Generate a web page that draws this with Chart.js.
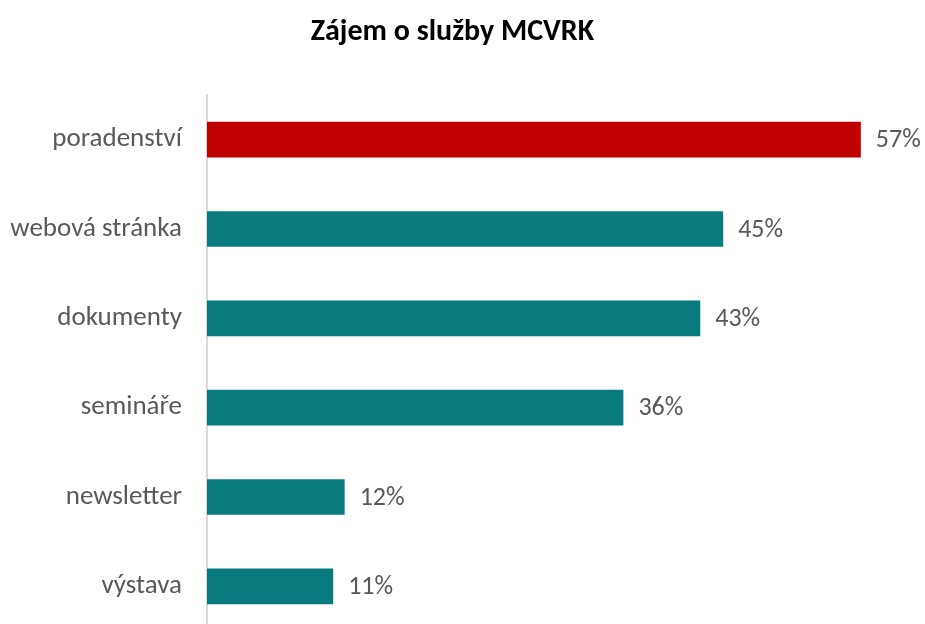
<!DOCTYPE html>
<html>
<head>
<meta charset="utf-8">
<script src="https://cdn.jsdelivr.net/npm/chart.js@4"></script>
<style>
 html,body{margin:0;padding:0;background:#fff;overflow:hidden;}
 #wrap{position:relative;width:925px;height:631px;}
</style>
</head>
<body>
<div id="wrap"><canvas id="chart"></canvas></div>
<script>
const categories=["poradenství","webová stránka","dokumenty","semináře","newsletter","výstava"];
const values=[57,45,43,36.3,12,11];
const valueLabels=["57%","45%","43%","36%","12%","11%"];
const barColors=["#C00000","#097B7E","#097B7E","#097B7E","#097B7E","#097B7E"];

const FONT="Carlito, Calibri, Lato, sans-serif";

// draws the % labels next to each bar
const valueLabelPlugin={
 id:"valueLabels",
 afterDatasetsDraw(chart){
  const ctx=chart.ctx;
  const meta=chart.getDatasetMeta(0);
  ctx.save();
  ctx.font="26px "+FONT;
  ctx.fillStyle="#595959";
  ctx.textAlign="left";
  ctx.textBaseline="middle";
  meta.data.forEach((bar,i)=>{
   ctx.fillText(valueLabels[i],bar.x+15,bar.y+1);
  });
  ctx.restore();
 }
};

new Chart(document.getElementById("chart"),{
 type:"bar",
 data:{
  labels:categories,
  datasets:[{data:values,backgroundColor:barColors,barPercentage:0.8,categoryPercentage:0.5}]
 },
 options:{
  indexAxis:"y",
  responsive:true,
  maintainAspectRatio:false,
  animation:false,
  layout:{padding:{left:0,right:20,top:0,bottom:0}},
  plugins:{
   legend:{display:false},
   tooltip:{enabled:false},
   title:{
    display:true,
    text:"Zájem o služby MCVRK",
    color:"#000",
    font:{family:FONT,size:30,weight:"bold",lineHeight:1.2},
    padding:{top:14,bottom:45}
   }
  },
  scales:{
   x:{display:false,min:0,max:60.85},
   y:{
    afterFit(scale){scale.width=207;scale.paddingTop=0;scale.paddingBottom=0;},
    grid:{display:false,drawTicks:false},
    border:{display:true,color:"#d9d9d9",width:2},
    ticks:{color:"#595959",padding:25,font:{family:FONT,size:27}}
   }
  }
 },
 plugins:[valueLabelPlugin]
});
</script>
</body>
</html>
